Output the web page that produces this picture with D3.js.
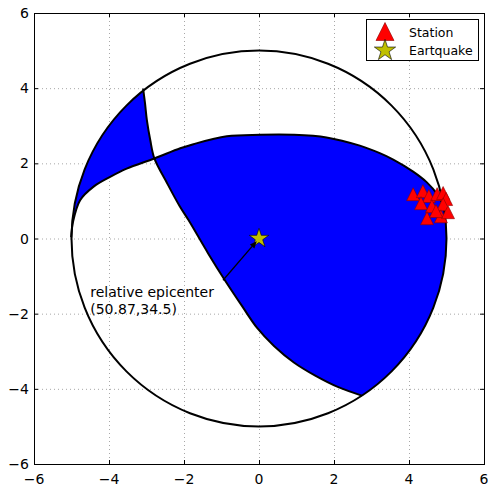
<!DOCTYPE html>
<html>
<head>
<meta charset="utf-8">
<script src="https://cdn.jsdelivr.net/npm/d3@7"></script>
<style>
  body { margin: 0; background: #fff; }
  svg { display: block; }
  text { font-family: "DejaVu Sans", sans-serif; fill: #000; }
</style>
</head>
<body>
<svg id="chart" width="488" height="486"></svg>
<script>
// ---- axis setup ----
const axisDomain = [-6, 6];
const xTicks = [-6, -4, -2, 0, 2, 4, 6];
const yTicks = [-6, -4, -2, 0, 2, 4, 6];

// ---- focal sphere (beach ball) ----
const sphereRadius = 5;
// nodal line 1, from its NW end on the sphere to its SE end
const nodalLine1 = [
  [-3.09, 3.99], [-3.04, 3.60], [-2.99, 3.15], [-2.90, 2.62], [-2.79, 2.13],
  [-2.45, 1.47], [-2.11, 0.85], [-1.88, 0.49], [-1.36, -0.39], [-0.91, -1.11],
  [-0.45, -1.80], [-0.05, -2.38], [0.40, -2.86], [0.93, -3.30], [1.50, -3.65],
  [2.10, -3.95], [2.74, -4.18]
];
// nodal line 2, from its W end on the sphere to its E end
const nodalLine2 = [
  [-5.01, 0.03], [-4.96, 0.44], [-4.77, 1.02], [-4.41, 1.38], [-3.97, 1.64],
  [-3.53, 1.86], [-2.79, 2.13], [-2.10, 2.40], [-1.75, 2.51], [-0.86, 2.72],
  [0.03, 2.76], [0.91, 2.76], [1.80, 2.69], [2.69, 2.47], [3.22, 2.27],
  [3.58, 2.10], [4.11, 1.78], [4.47, 1.50], [4.75, 1.18], [4.93, 0.85]
];

// ---- stations ----
const stationX = [4.11, 4.37, 4.53, 4.75, 4.91, 4.99, 4.32, 4.61, 4.91, 4.48, 4.85, 5.04, 4.72];
const stationY = [1.18, 1.26, 1.13, 1.18, 1.21, 1.05, 0.94, 0.86, 0.91, 0.54, 0.59, 0.70, 0.73];

// ---- earthquake ----
const quakeX = [0];
const quakeY = [0];

// ---- annotation ----
const annotLines = ["relative epicenter", "(50.87,34.5)"];
const annotTextPos = [-4.5, -2.0];
const annotArrowTail = [-0.96, -1.11];

// ---- legend ----
const legendLabels = ["Station", "Eartquake"];

const svg = d3.select("#chart");
const x = d3.scaleLinear().domain(axisDomain).range([34, 484]);
const y = d3.scaleLinear().domain(axisDomain).range([464, 13]);

const fmt = v => (v < 0 ? "\u2212" + Math.abs(v) : String(v));

// background
svg.append("rect").attr("width", 488).attr("height", 486).attr("fill", "#fff");

// dotted grid
const grid = svg.append("g").attr("stroke", "#a8a8a8").attr("stroke-width", 1)
  .attr("stroke-dasharray", "1,3");
grid.selectAll("line.gx").data(xTicks.filter(t => t > axisDomain[0] && t < axisDomain[1]))
  .join("line").attr("x1", d => x(d) + 0.5).attr("x2", d => x(d) + 0.5)
  .attr("y1", y(axisDomain[1])).attr("y2", y(axisDomain[0]));
grid.selectAll("line.gy").data(yTicks.filter(t => t > axisDomain[0] && t < axisDomain[1]))
  .join("line").attr("y1", d => y(d) + 0.5).attr("y2", d => y(d) + 0.5)
  .attr("x1", x(axisDomain[0])).attr("x2", x(axisDomain[1]));

// ---- beach ball ----
const nodal = d3.line().x(d => x(d[0])).y(d => y(d[1])).curve(d3.curveCatmullRom.alpha(0.5));
const rx = x(sphereRadius) - x(0), ry = y(0) - y(sphereRadius);
const azimuth = p => Math.atan2(p[0], p[1]);
// points along the sphere outline between the azimuths of two points
function rimTo(from, to, clockwise) {
  const a0 = azimuth(from);
  let span = azimuth(to) - a0;
  if (clockwise) { while (span < 0) span += 2 * Math.PI; }
  else { while (span > 0) span -= 2 * Math.PI; }
  const n = 90;
  let s = "";
  for (let i = 0; i <= n; i++) {
    const a = a0 + span * i / n;
    s += `L${x(sphereRadius * Math.sin(a))},${y(sphereRadius * Math.cos(a))}`;
  }
  return s;
}
const disk = `M${x(sphereRadius)},${y(0)}A${rx},${ry} 0 1 1 ${x(-sphereRadius)},${y(0)}` +
             `A${rx},${ry} 0 1 1 ${x(sphereRadius)},${y(0)}Z`;
const n1 = nodalLine1, n2 = nodalLine2;
// side of line 2 toward the north, closed along the sphere
const sideNorth = nodal(n2) + rimTo(n2[n2.length - 1], n2[0], false) + "Z";
// side of line 1 toward the west, closed along the sphere
const sideWest = nodal(n1) + rimTo(n1[n1.length - 1], n1[0], true) + "Z";

// compressional quadrants: even-odd combination of the disk and both sides
svg.append("path").attr("d", disk + sideNorth + sideWest)
  .attr("fill", "#0000ff").attr("fill-rule", "evenodd").attr("stroke", "none");

const ball = svg.append("g").attr("fill", "none").attr("stroke", "#000").attr("stroke-width", 2)
  .attr("stroke-linejoin", "round");
ball.append("path").attr("d", nodal(nodalLine1));
ball.append("path").attr("d", nodal(nodalLine2));
ball.append("path").attr("d", disk);

// ---- markers ----
const triPath = s => `M0,${-s / 2}L${-s / 2},${s / 2}L${s / 2},${s / 2}Z`;
function starPath(r) {
  const ri = r * 0.381966, pts = [];
  for (let i = 0; i < 10; i++) {
    const a = Math.PI / 5 * i, rr = i % 2 ? ri : r;
    pts.push([rr * Math.sin(a), -rr * Math.cos(a)]);
  }
  return "M" + pts.map(p => p.join(",")).join("L") + "Z";
}

svg.append("g").selectAll("path").data(d3.range(stationX.length)).join("path")
  .attr("transform", i => `translate(${x(stationX[i])},${y(stationY[i])})`)
  .attr("d", triPath(13)).attr("fill", "#ff0000").attr("stroke", "#8a0000").attr("stroke-width", 0.6);

svg.append("g").selectAll("path").data(d3.range(quakeX.length)).join("path")
  .attr("transform", i => `translate(${x(quakeX[i])},${y(quakeY[i])})`)
  .attr("d", starPath(10.2)).attr("fill", "#bfbf00").attr("stroke", "#000").attr("stroke-width", 0.6);

// ---- annotation ----
const annot = svg.append("text").attr("x", x(annotTextPos[0])).attr("font-size", 14);
annotLines.forEach((t, i) => {
  annot.append("tspan").attr("x", x(annotTextPos[0]))
    .attr("y", y(annotTextPos[1]) - (annotLines.length - 1 - i) * 16.8).text(t);
});
{
  const tx = x(annotArrowTail[0]), ty = y(annotArrowTail[1]);
  const hx0 = x(quakeX[0]), hy0 = y(quakeY[0]);
  const len = Math.hypot(hx0 - tx, hy0 - ty);
  const ux = (hx0 - tx) / len, uy = (hy0 - ty) / len;
  const shrink = 3.5, headL = 7, headW = 3;
  const hx = hx0 - ux * shrink, hy = hy0 - uy * shrink;
  const bx = hx - ux * headL, by = hy - uy * headL;
  svg.append("line").attr("x1", tx).attr("y1", ty).attr("x2", bx).attr("y2", by)
    .attr("stroke", "#000").attr("stroke-width", 1.3);
  svg.append("path")
    .attr("d", `M${hx},${hy}L${bx - uy * headW},${by + ux * headW}L${bx + uy * headW},${by - ux * headW}Z`)
    .attr("fill", "#000");
}

// ---- frame, ticks and labels ----
const x0 = x(axisDomain[0]), x1 = x(axisDomain[1]), y0 = y(axisDomain[0]), y1 = y(axisDomain[1]);
const axes = svg.append("g").attr("stroke", "#000").attr("stroke-width", 1);
axes.append("rect").attr("x", x0 + 0.5).attr("y", y1 + 0.5).attr("width", x1 - x0)
  .attr("height", y0 - y1).attr("fill", "none");
const tl = 4;
xTicks.forEach(t => {
  axes.append("line").attr("x1", x(t) + 0.5).attr("x2", x(t) + 0.5).attr("y1", y0).attr("y2", y0 - tl);
  axes.append("line").attr("x1", x(t) + 0.5).attr("x2", x(t) + 0.5).attr("y1", y1).attr("y2", y1 + tl);
});
yTicks.forEach(t => {
  axes.append("line").attr("y1", y(t) + 0.5).attr("y2", y(t) + 0.5).attr("x1", x0).attr("x2", x0 + tl);
  axes.append("line").attr("y1", y(t) + 0.5).attr("y2", y(t) + 0.5).attr("x1", x1).attr("x2", x1 - tl);
});
svg.append("g").selectAll("text").data(xTicks).join("text")
  .attr("x", d => x(d)).attr("y", y0 + 20).attr("text-anchor", "middle")
  .attr("font-size", 14).text(fmt);
svg.append("g").selectAll("text").data(yTicks).join("text")
  .attr("x", x0 - 5).attr("y", d => y(d) + 5).attr("text-anchor", "end")
  .attr("font-size", 14).text(fmt);

// ---- legend ----
const lg = svg.append("g");
lg.append("rect").attr("x", 366.5).attr("y", 19.5).attr("width", 112).attr("height", 41)
  .attr("fill", "#fff").attr("stroke", "#000").attr("stroke-width", 1);
lg.append("path").attr("transform", "translate(385,31.5)").attr("d", triPath(18))
  .attr("fill", "#ff0000").attr("stroke", "#8a0000").attr("stroke-width", 0.6);
lg.append("path").attr("transform", "translate(385,50.5)").attr("d", starPath(11.2))
  .attr("fill", "#bfbf00").attr("stroke", "#000").attr("stroke-width", 0.6);
lg.selectAll("text").data(legendLabels).join("text")
  .attr("x", 409).attr("y", (d, i) => 36.5 + i * 18.5).attr("font-size", 12.5).text(d => d);
</script>
</body>
</html>
